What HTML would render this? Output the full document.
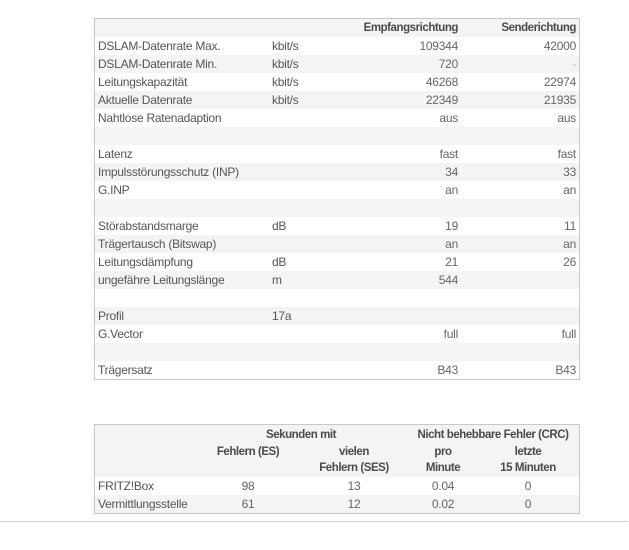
<!DOCTYPE html>
<html><head><meta charset="utf-8"><style>
html,body{margin:0;padding:0;background:#fff;width:629px;height:550px;overflow:hidden;position:relative;font-family:"Liberation Sans",sans-serif;font-size:12px;color:#555;}
.box{position:absolute;left:94px;width:484px;border:1px solid #c8c8c8;background:#fff;}
.r{position:absolute;left:0;width:484px;height:18px;}
.g{background:#f4f4f2;}
.t{position:absolute;line-height:18px;white-space:nowrap;letter-spacing:-0.25px;}
.l{left:3px;}
.u{left:177px;}
.e{right:121px;text-align:right;}
.s{right:3px;text-align:right;}
.b{font-weight:bold;color:#4a4a4a;font-size:11.5px;letter-spacing:-0.45px;}
.c{transform:translateX(-50%);text-align:center;}
.v{color:#666;}
</style></head><body>

<div class="box" style="top:18px;height:360px;">
 <div class="r g" style="top:0"><span class="t e b">Empfangsrichtung</span><span class="t s b">Senderichtung</span></div>
 <div class="r" style="top:18px"><span class="t l">DSLAM-Datenrate Max.</span><span class="t u">kbit/s</span><span class="t e v">109344</span><span class="t s v">42000</span></div>
 <div class="r g" style="top:36px"><span class="t l">DSLAM-Datenrate Min.</span><span class="t u">kbit/s</span><span class="t e v">720</span><span class="t s v" style="color:#bbb">-</span></div>
 <div class="r" style="top:54px"><span class="t l">Leitungskapazität</span><span class="t u">kbit/s</span><span class="t e v">46268</span><span class="t s v">22974</span></div>
 <div class="r g" style="top:72px"><span class="t l">Aktuelle Datenrate</span><span class="t u">kbit/s</span><span class="t e v">22349</span><span class="t s v">21935</span></div>
 <div class="r" style="top:90px"><span class="t l">Nahtlose Ratenadaption</span><span class="t e v">aus</span><span class="t s v">aus</span></div>
 <div class="r g" style="top:108px"></div>
 <div class="r" style="top:126px"><span class="t l">Latenz</span><span class="t e v">fast</span><span class="t s v">fast</span></div>
 <div class="r g" style="top:144px"><span class="t l">Impulsstörungsschutz (INP)</span><span class="t e v">34</span><span class="t s v">33</span></div>
 <div class="r" style="top:162px"><span class="t l">G.INP</span><span class="t e v">an</span><span class="t s v">an</span></div>
 <div class="r g" style="top:180px"></div>
 <div class="r" style="top:198px"><span class="t l">Störabstandsmarge</span><span class="t u">dB</span><span class="t e v">19</span><span class="t s v">11</span></div>
 <div class="r g" style="top:216px"><span class="t l">Trägertausch (Bitswap)</span><span class="t e v">an</span><span class="t s v">an</span></div>
 <div class="r" style="top:234px"><span class="t l">Leitungsdämpfung</span><span class="t u">dB</span><span class="t e v">21</span><span class="t s v">26</span></div>
 <div class="r g" style="top:252px"><span class="t l">ungefähre Leitungslänge</span><span class="t u">m</span><span class="t e v">544</span></div>
 <div class="r" style="top:270px"></div>
 <div class="r g" style="top:288px"><span class="t l">Profil</span><span class="t u">17a</span></div>
 <div class="r" style="top:306px"><span class="t l">G.Vector</span><span class="t e v">full</span><span class="t s v">full</span></div>
 <div class="r g" style="top:324px"></div>
 <div class="r" style="top:342px"><span class="t l">Trägersatz</span><span class="t e v">B43</span><span class="t s v">B43</span></div>
</div>

<div class="box" style="top:424px;height:88px;">
 <div class="r g" style="top:0;height:52px;">
  <span class="t b c" style="left:206px;top:1px">Sekunden mit</span>
  <span class="t b c" style="left:398px;top:1px">Nicht behebbare Fehler (CRC)</span>
  <span class="t b c" style="left:153px;top:18px">Fehlern (ES)</span>
  <span class="t b c" style="left:259px;top:18px">vielen</span>
  <span class="t b c" style="left:259px;top:34px">Fehlern (SES)</span>
  <span class="t b c" style="left:348px;top:18px">pro</span>
  <span class="t b c" style="left:348px;top:34px">Minute</span>
  <span class="t b c" style="left:433px;top:18px">letzte</span>
  <span class="t b c" style="left:433px;top:34px">15 Minuten</span>
 </div>
 <div class="r" style="top:52px"><span class="t l">FRITZ!Box</span><span class="t c v" style="left:153px">98</span><span class="t c v" style="left:259px">13</span><span class="t c v" style="left:348px">0.04</span><span class="t c v" style="left:433px">0</span></div>
 <div class="r g" style="top:70px"><span class="t l">Vermittlungsstelle</span><span class="t c v" style="left:153px">61</span><span class="t c v" style="left:259px">12</span><span class="t c v" style="left:348px">0.02</span><span class="t c v" style="left:433px">0</span></div>
</div>

<div style="position:absolute;left:0;top:521px;width:628px;height:1px;background:#d0d0d0;"></div>
</body></html>
